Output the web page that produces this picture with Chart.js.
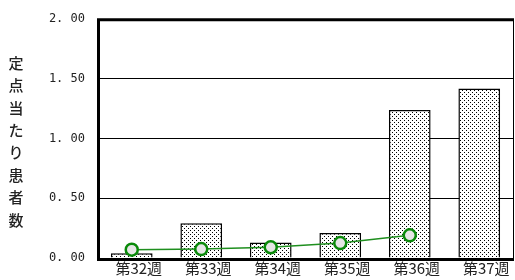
<!DOCTYPE html>
<html>
<head>
<meta charset="utf-8">
<script src="https://cdn.jsdelivr.net/npm/chart.js@4.4.0/dist/chart.umd.min.js"></script>
<style>
  html, body { margin: 0; padding: 0; background: #fff; }
  #wrap { width: 515px; height: 280px; }
</style>
</head>
<body>
<div id="wrap"><canvas id="grafico" width="515" height="280"></canvas></div>
<script>
// datos
var semanas = ['第32週', '第33週', '第34週', '第35週', '第36週', '第37週'];
var valoresBarra = [0.04, 0.29, 0.13, 0.21, 1.24, 1.42];
var valoresLinea = [0.07, 0.075, 0.09, 0.125, 0.19, null];
var ticksY = [0, 0.5, 1.0, 1.5, 2.0];
var tituloY = '定点当たり患者数';

// patron de puntos para las barras
function crearPatron() {
    var c = document.createElement('canvas');
    c.width = 4; c.height = 4;
    var g = c.getContext('2d');
    g.fillStyle = '#fff';
    g.fillRect(0, 0, 4, 4);
    g.fillStyle = '#000';
    g.fillRect(0, 0, 1, 1);
    g.fillRect(2, 2, 1, 1);
    return g.createPattern(c, 'repeat');
}

// marco y titulo vertical
var marco = {
    id: 'marco',
    afterDraw: function(chart) {
        var ctx = chart.ctx, a = chart.chartArea;
        ctx.save();
        ctx.strokeStyle = '#000';
        ctx.lineWidth = 3;
        ctx.beginPath();
        ctx.moveTo(a.left + 1.5, a.bottom + 1.5);
        ctx.lineTo(a.left + 1.5, a.top + 0.5);
        ctx.lineTo(a.right, a.top + 0.5);
        ctx.moveTo(a.left, a.bottom + 1.5);
        ctx.lineTo(a.right, a.bottom + 1.5);
        ctx.stroke();
        ctx.lineWidth = 1;
        ctx.beginPath();
        ctx.moveTo(a.right - 0.5, a.top);
        ctx.lineTo(a.right - 0.5, a.bottom);
        ctx.stroke();

        ctx.fillStyle = '#222';
        ctx.font = '500 15px "Noto Sans CJK JP"';
        ctx.textAlign = 'center';
        ctx.textBaseline = 'middle';
        var chars = tituloY.split('');
        for (var i = 0; i < chars.length; i++) {
            ctx.fillText(chars[i], 16, 63 + i * 22.4);
        }
        ctx.restore();
    }
};

var getGrafico = document.getElementById('grafico');
var grafico = new Chart(getGrafico, {
    type: 'bar',
    plugins: [marco],
    data: {
        labels: semanas,
        datasets: [
            {
                type: 'line',
                data: valoresLinea,
                borderColor: '#1f8f1f',
                borderWidth: 1.5,
                pointRadius: 6,
                pointBackgroundColor: '#e6e6e6',
                pointBorderColor: '#0a8a0a',
                pointBorderWidth: 2.5,
                fill: false,
                order: 0
            },
            {
                data: valoresBarra,
                backgroundColor: crearPatron(),
                borderColor: '#000',
                borderWidth: 1.5,
                barPercentage: 0.6,
                categoryPercentage: 1.0,
                order: 1
            }
        ]
    },
    options: {
        responsive: false,
        animation: false,
        layout: { autoPadding: false, padding: { top: 18, right: 1, left: 0, bottom: 0 } },
        scales: {
            x: {
                grid: { display: false, drawTicks: false },
                border: { display: false },
                ticks: {
                    color: '#222',
                    font: { family: '"Noto Sans CJK JP"', size: 15 },
                    padding: 1,
                    labelOffset: 7,
                    maxRotation: 0
                },
                afterFit: function(s) { s.height = 22; }
            },
            y: {
                min: 0,
                max: 2,
                afterBuildTicks: function(s) {
                    s.ticks = ticksY.map(function(v) { return { value: v }; });
                },
                grid: {
                    color: function(c) {
                        return (c.tick.value > 0 && c.tick.value < 2) ? '#000' : 'rgba(0,0,0,0)';
                    },
                    lineWidth: 1,
                    drawTicks: false
                },
                border: { display: false },
                ticks: {
                    color: '#222',
                    font: { family: '"DejaVu Sans Mono"', size: 12 },
                    padding: 12,
                    callback: function(v) { return v.toFixed(2).replace('.', '. '); }
                },
                afterFit: function(s) { s.width = 97; }
            }
        },
        plugins: {
            legend: { display: false },
            tooltip: { enabled: false }
        }
    }
});
</script>
</body>
</html>
